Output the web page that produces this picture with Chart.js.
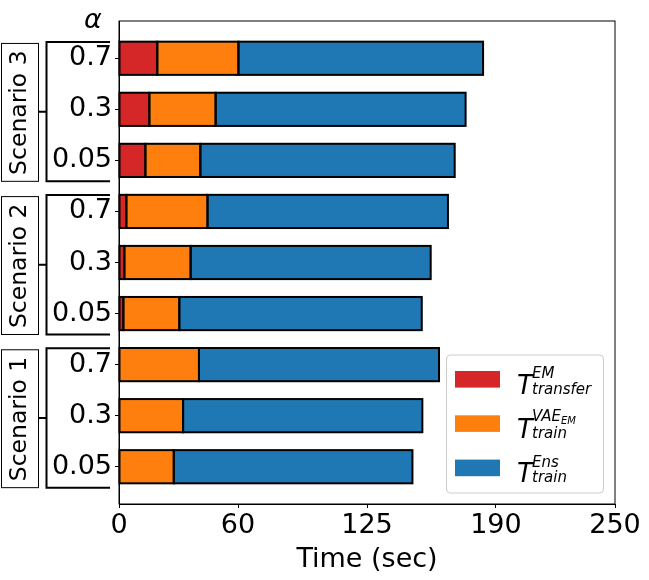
<!DOCTYPE html>
<html>
<head>
<meta charset="utf-8">
<script src="https://cdn.jsdelivr.net/npm/chart.js@4"></script>
<style>
  html, body { margin: 0; padding: 0; background: #fff; }
</style>
</head>
<body>
<canvas id="myChart" width="649" height="580"></canvas>
<script>
// bars listed top to bottom
const alphas = ["0.7", "0.3", "0.05", "0.7", "0.3", "0.05", "0.7", "0.3", "0.05"];
const scenarios = ["Scenario 3", "Scenario 2", "Scenario 1"];
const transferTime = [19.3, 15.3, 13.3, 3.7, 2.7, 2.2, 0, 0, 0];
const vaeTime = [40.9, 33.4, 27.7, 40.9, 33.4, 28.2, 40.3, 32.3, 27.6];
const ensTime = [123.3, 126.0, 128.2, 121.2, 121.0, 122.2, 121.0, 120.6, 120.3];
const xTicks = [0, 60, 125, 190, 250];
const seriesNames = ["T^EM_transfer", "T^VAE_EM_train", "T^Ens_train"];
const legendParts = [
  { sup: "EM", supSub: "", sub: "transfer" },
  { sup: "VAE", supSub: "EM", sub: "train" },
  { sup: "Ens", supSub: "", sub: "train" },
];

const FONT = "'DejaVu Sans', sans-serif";
const ctx = document.getElementById("myChart");

const toPoints = (vals) => vals.map((v, i) => ({ x: v, y: i }));

// black edges centred on each bar segment, like matplotlib's edgecolor
const barEdges = {
  id: "barEdges",
  afterDatasetsDraw(chart) {
    const c = chart.ctx;
    c.save();
    c.strokeStyle = "#000";
    c.lineWidth = 2;
    chart.data.datasets.forEach((ds, di) => {
      chart.getDatasetMeta(di).data.forEach((bar) => {
        const { x, y, base, height } = bar.getProps(["x", "y", "base", "height"], true);
        if (Math.abs(x - base) < 0.5) return;
        c.strokeRect(Math.min(x, base), y - height / 2, Math.abs(x - base), height);
      });
    });
    c.restore();
  },
};

// frame, scenario brackets, alpha header and the math legend
const extras = {
  id: "extras",
  afterDraw(chart) {
    const c = chart.ctx;
    const area = chart.chartArea;
    const y = chart.scales.y;
    c.save();

    c.strokeStyle = "#000";
    c.lineWidth = 1;
    c.strokeRect(area.left, area.top, area.right - area.left, area.bottom - area.top);

    // brackets + boxes
    scenarios.forEach((name, g) => {
      const top = y.getPixelForValue(g * 3 - 0.32);
      const bot = y.getPixelForValue(g * 3 + 2 + 0.41);
      const mid = (top + bot) / 2;
      c.lineWidth = 2;
      c.beginPath();
      c.moveTo(110, top);
      c.lineTo(46.5, top);
      c.lineTo(46.5, bot);
      c.lineTo(110, bot);
      c.moveTo(39, mid);
      c.lineTo(46.5, mid);
      c.stroke();

      c.lineWidth = 1;
      c.strokeRect(1.5, top + 1.5, 37, bot - top - 1.5);

      c.save();
      c.translate(20, top + (bot - top) / 2 + 1);
      c.rotate(-Math.PI / 2);
      c.fillStyle = "#000";
      c.font = "23.5px " + FONT;
      c.textAlign = "center";
      c.textBaseline = "middle";
      c.fillText(name, 0, 0);
      c.restore();
    });

    c.fillStyle = "#000";
    c.font = "italic 27px " + FONT;
    c.textAlign = "center";
    c.textBaseline = "middle";
    c.fillText("α", 93, 21);

    // legend
    const lx = 446.5, ly = 355, lw = 157, lh = 138;
    c.beginPath();
    c.roundRect(lx, ly, lw, lh, 4);
    c.fillStyle = "rgba(255,255,255,0.8)";
    c.fill();
    c.strokeStyle = "#ccc";
    c.lineWidth = 1;
    c.stroke();

    c.textAlign = "left";
    c.textBaseline = "alphabetic";
    chart.data.datasets.forEach((ds, i) => {
      const cy = ly + 24.3 + i * 44.3;
      c.fillStyle = ds.backgroundColor;
      c.fillRect(455, cy - 8.3, 45, 16.6);
      const p = legendParts[i];
      c.fillStyle = "#000";
      c.font = "italic 26px " + FONT;
      c.fillText("T", 517, cy + 14.5);
      c.font = "italic 15px " + FONT;
      const supBase = p.supSub ? cy - 3 : cy - 1;
      c.fillText(p.sup, 532, supBase);
      if (p.supSub) {
        const w = c.measureText(p.sup).width;
        c.font = "italic 10px " + FONT;
        c.fillText(p.supSub, 532 + w, cy + 0.5);
        c.font = "italic 15px " + FONT;
      }
      c.fillText(p.sub, 532, cy + 14.5);
    });

    c.restore();
  },
};

new Chart(ctx, {
  type: "bar",
  data: {
    datasets: [
      { label: seriesNames[0], data: toPoints(transferTime), backgroundColor: "#d62728" },
      { label: seriesNames[1], data: toPoints(vaeTime), backgroundColor: "#ff7f0e" },
      { label: seriesNames[2], data: toPoints(ensTime), backgroundColor: "#1f77b4" },
    ],
  },
  options: {
    indexAxis: "y",
    responsive: false,
    animation: false,
    datasets: {
      bar: {
        barPercentage: 0.65,
        categoryPercentage: 1,
        borderWidth: 0,
        inflateAmount: 0,
      },
    },
    layout: { padding: { top: 21, right: 34, left: 0, bottom: 0 } },
    plugins: {
      legend: { display: false },
      tooltip: { enabled: false },
    },
    scales: {
      x: {
        type: "linear",
        stacked: true,
        min: 0,
        max: 250,
        offset: false,
        afterBuildTicks: (s) => { s.ticks = xTicks.map((v) => ({ value: v })); },
        afterFit: (s) => { s.height = 76; },
        grid: { offset: false, drawOnChartArea: false, drawTicks: true, tickLength: 4, color: "#000" },
        border: { display: true, color: "#000" },
        ticks: { color: "#000", padding: 2, maxRotation: 0, font: { size: 27, family: FONT } },
        title: {
          display: true,
          text: "Time (sec)",
          color: "#000",
          font: { size: 27, family: FONT },
          padding: { top: 0, bottom: 4 },
        },
      },
      y: {
        type: "linear",
        stacked: true,
        reverse: true,
        offset: false,
        min: -0.73,
        max: 8.73,
        afterBuildTicks: (s) => { s.ticks = alphas.map((_, i) => ({ value: i })); },
        afterFit: (s) => { s.width = 119; },
        grid: { offset: false, drawOnChartArea: false, drawTicks: true, tickLength: 4, color: "#000" },
        border: { display: true, color: "#000" },
        ticks: {
          color: "#000",
          padding: 3,
          font: { size: 27, family: FONT },
          callback: (v) => alphas[v],
        },
      },
    },
  },
  plugins: [barEdges, extras],
});
</script>
</body>
</html>
